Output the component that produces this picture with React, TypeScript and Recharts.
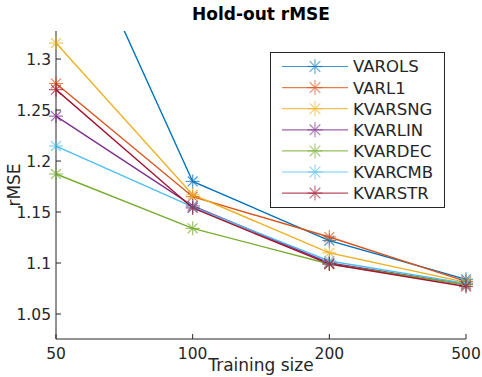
import React from 'react';
import { LineChart, Line, XAxis, YAxis } from 'recharts';

const sizes = ['50', '100', '200', '500'];
const varols = [1.475, 1.18, 1.122, 1.084];
const varl1 = [1.276, 1.165, 1.1255, 1.082];
const kvarsng = [1.3157, 1.167, 1.11, 1.081];
const kvarlin = [1.244, 1.156, 1.1, 1.079];
const kvardec = [1.1873, 1.134, 1.099, 1.079];
const kvarcmb = [1.2147, 1.155, 1.102, 1.08];
const kvarstr = [1.27, 1.154, 1.099, 1.077];
const yTicks = [1.05, 1.1, 1.15, 1.2, 1.25, 1.3];

const series = [
  { key: 'VAROLS', values: varols, color: '#0072BD' },
  { key: 'VARL1', values: varl1, color: '#D95319' },
  { key: 'KVARSNG', values: kvarsng, color: '#EDB120' },
  { key: 'KVARLIN', values: kvarlin, color: '#7E2F8E' },
  { key: 'KVARDEC', values: kvardec, color: '#77AC30' },
  { key: 'KVARCMB', values: kvarcmb, color: '#4DBEEE' },
  { key: 'KVARSTR', values: kvarstr, color: '#A2142F' },
];

const data = sizes.map((s, i) => {
  const row: Record<string, any> = { size: s };
  series.forEach((sr) => (row[sr.key] = sr.values[i]));
  return row;
});

const FONT = '"DejaVu Sans", sans-serif';
const AX = '#262626';

// matlab '*' marker
const Asterisk = ({ cx, cy, color, r = 7, opacity = 0.7 }: any) => {
  const d = r * 0.707;
  return (
    <g stroke={color} strokeWidth={1.2} opacity={opacity}>
      <line x1={cx - r} y1={cy} x2={cx + r} y2={cy} />
      <line x1={cx} y1={cy - r} x2={cx} y2={cy + r} />
      <line x1={cx - d} y1={cy - d} x2={cx + d} y2={cy + d} />
      <line x1={cx - d} y1={cy + d} x2={cx + d} y2={cy - d} />
    </g>
  );
};

const BottomTick = ({ x, y, payload }: any) => (
  <g>
    <line x1={x} x2={x} y1={y} y2={y - 5} stroke={AX} />
    <text x={x} y={y + 20} textAnchor="middle" fontSize={15.5} fill={AX} fontFamily={FONT}>
      {payload.value}
    </text>
  </g>
);

const TopTick = ({ x, y }: any) => <line x1={x} x2={x} y1={y} y2={y + 5} stroke={AX} />;

const LeftTick = ({ x, y, payload }: any) => (
  <g>
    <line x1={x} x2={x + 5} y1={y} y2={y} stroke={AX} />
    <text x={x - 5} y={y} dy="0.36em" textAnchor="end" fontSize={15.5} fill={AX} fontFamily={FONT}>
      {String(payload.value)}
    </text>
  </g>
);

const RightTick = ({ x, y }: any) => <line x1={x} x2={x - 5} y1={y} y2={y} stroke={AX} />;

const LegendBox = () => (
  <svg width={175} height={156} style={{ display: 'block' }}>
    <rect x={0.5} y={0.5} width={174} height={155} fill="#fff" stroke={AX} strokeWidth={1} />
    {series.map((s, i) => {
      const y = 14.5 + i * 21.1;
      return (
        <g key={s.key}>
          <line x1={12} x2={78} y1={y} y2={y} stroke={s.color} strokeWidth={1.2} opacity={0.75} />
          <Asterisk cx={45} cy={y} color={s.color} r={7.5} opacity={0.6} />
          <text x={83} y={y} dy="0.36em" fontSize={16.5} fill={AX} fontFamily={FONT}>
            {s.key}
          </text>
        </g>
      );
    })}
  </svg>
);

export default function App() {
  return (
    <div style={{ position: 'absolute', left: 0, top: 0, width: 482, height: 377, background: '#fff', fontFamily: FONT }}>
      <LineChart width={482} height={377} data={data} margin={{ top: 31, right: 16, left: 0, bottom: 0 }}>
        <XAxis
          dataKey="size"
          type="category"
          height={38}
          stroke={AX}
          tickSize={0}
          tickMargin={0}
          tickLine={false}
          tick={<BottomTick />}
          interval={0}
        />
        <XAxis
          xAxisId="top"
          orientation="top"
          dataKey="size"
          height={0}
          stroke={AX}
          tickSize={0}
          tickMargin={0}
          tickLine={false}
          tick={<TopTick />}
          interval={0}
        />
        <YAxis
          type="number"
          width={56}
          domain={[1.0255, 1.3275]}
          allowDataOverflow
          ticks={yTicks}
          stroke={AX}
          tickSize={0}
          tickMargin={0}
          tickLine={false}
          tick={<LeftTick />}
        />
        <YAxis
          yAxisId="right"
          orientation="right"
          type="number"
          width={0}
          domain={[1.0255, 1.3275]}
          allowDataOverflow
          ticks={yTicks}
          stroke={AX}
          tickSize={0}
          tickMargin={0}
          tickLine={false}
          tick={<RightTick />}
        />
        {series.map((s) => (
          <Line
            key={s.key}
            dataKey={s.key}
            stroke={s.color}
            strokeWidth={1.4}
            isAnimationActive={false}
            dot={(p: any) => <Asterisk key={`${s.key}-${p.index}`} cx={p.cx} cy={p.cy} color={s.color} />}
            activeDot={false}
          />
        ))}
      </LineChart>
      <div style={{ position: 'absolute', left: 270, top: 52 }}>
        <LegendBox />
      </div>
      <div style={{ position: 'absolute', left: 0, width: 522, top: 4, textAlign: 'center', fontWeight: 'bold', fontSize: 17, color: '#000' }}>
        Hold-out rMSE
      </div>
      <div style={{ position: 'absolute', left: 0, width: 522, top: 355, textAlign: 'center', fontSize: 17, color: AX }}>
        Training size
      </div>
      <div
        style={{
          position: 'absolute',
          left: 14,
          top: 185,
          transform: 'translate(-50%, -50%) rotate(-90deg)',
          fontSize: 17,
          color: AX,
          whiteSpace: 'nowrap',
        }}
      >
        rMSE
      </div>
    </div>
  );
}
